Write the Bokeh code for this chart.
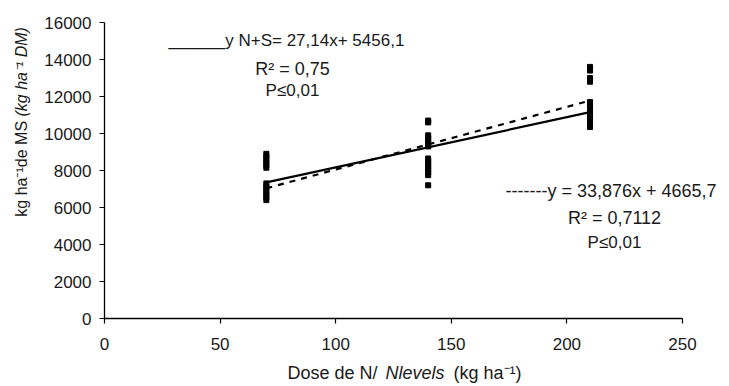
import math
from bokeh.plotting import figure
from bokeh.models import Label, Range1d, FixedTicker
from bokeh.embed import file_html
from bokeh.resources import INLINE

# ---- data ----
dose_70 = [8900, 8750, 8600, 8450, 8300, 8150, 7300, 7150, 7000, 6850, 6700, 6550, 6400]
dose_140 = [10700, 10600, 9900, 9750, 9600, 9450, 9300, 8650, 8500, 8350, 8200, 8050, 7900, 7750, 7200]
dose_210 = [13600, 13400, 13000, 12800, 11700, 11500, 11350, 11200, 11050, 10900, 10750, 10500, 10350]
doses = [70, 140, 210]

# regressions (from chart text)
slope_ns, inter_ns = 27.14, 5456.1
slope_n, inter_n = 33.876, 4665.7
x_fit = [70, 210]

x_ticks = [0, 50, 100, 150, 200, 250]
y_ticks = [0, 2000, 4000, 6000, 8000, 10000, 12000, 14000, 16000]

FONT = "Liberation Sans"
TXT = "#1a1a1a"

# pixel mapping: x 0 at px 104, 250 at px 682 ; y 0 at px 318, 16000 at px 22
W, H = 729, 386
X0, Y0 = 104, 318
XS = 578 / 250.0
YS = 296 / 16000.0

p = figure(width=W, height=H, output_backend="svg", toolbar_location=None,
           x_range=Range1d(-X0 / XS, (W - X0) / XS),
           y_range=Range1d(-(H - Y0) / YS, Y0 / YS),
           min_border=0, min_border_left=0, min_border_right=0,
           min_border_top=0, min_border_bottom=0)
p.outline_line_color = None
p.xgrid.visible = False
p.ygrid.visible = False
p.background_fill_color = "white"
p.border_fill_color = "white"

for ax in (p.xaxis[0], p.yaxis[0]):
    ax.fixed_location = 0
    ax.axis_line_color = "black"
    ax.axis_line_width = 1.3
    ax.major_tick_line_color = "black"
    ax.major_tick_line_width = 1.2
    ax.major_tick_out = 5
    ax.major_tick_in = 0
    ax.minor_tick_line_color = None
    ax.major_label_text_font = FONT
    ax.major_label_text_font_size = "17px"
    ax.major_label_text_color = TXT
p.xaxis[0].ticker = FixedTicker(ticks=x_ticks)
p.yaxis[0].ticker = FixedTicker(ticks=y_ticks)
p.xaxis[0].bounds = (0, 250)
p.yaxis[0].bounds = (0, 16000)
p.xaxis[0].major_label_standoff = 14
p.yaxis[0].major_label_standoff = 8

# points
xs, ys = [], []
for d, vals in zip(doses, [dose_70, dose_140, dose_210]):
    xs += [d] * len(vals)
    ys += vals
p.scatter(x=xs, y=ys, marker="square", size=5, color="black")

# regression lines
p.line(x=x_fit, y=[slope_n * v + inter_n for v in x_fit], line_color="black",
       line_width=2.2, line_dash="6 6")
p.line(x=x_fit, y=[slope_ns * v + inter_ns for v in x_fit], line_color="black",
       line_width=2.2)

def px2x(px):
    return (px - X0) / XS

def py2y(py):
    return (Y0 - py) / YS

def lab(text, px, py, align="left", style="normal", size="17px", angle=0.0):
    p.add_layout(Label(x=px2x(px), y=py2y(py), text=text, text_align=align,
                       text_baseline="middle", text_font=FONT, text_font_size=size,
                       text_font_style=style, text_color=TXT, angle=angle))

# equation annotations
lab("______y N+S= 27,14x+ 5456,1", 168, 40)
lab("R² = 0,75", 292, 68, align="center", size="18px")
lab("P≤0,01", 292, 90, align="center")
lab("-------y = 33,876x + 4665,7", 505, 190, size="18px")
lab("R² = 0,7112", 614, 217, align="center", size="18px")
lab("P≤0,01", 614, 242, align="center")

# axis titles with mixed styles
lab("Dose de N/", 332, 372, align="center", size="18px")
lab("Nlevels", 385, 372, style="italic", size="18px")
lab("(kg ha⁻¹)", 453, 372, size="18px")

lab("kg ha⁻¹de MS ", 21, 116, align="right", angle=math.pi / 2, size="16px")
lab("(kg ha⁻¹ DM)", 21, 116, align="left", style="italic", angle=math.pi / 2, size="16px")

open("out.html", "w").write(file_html(p, INLINE))
